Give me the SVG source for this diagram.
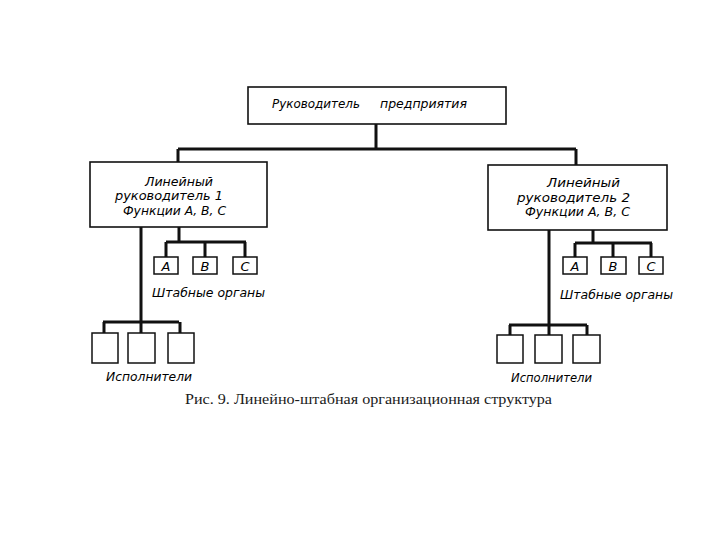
<svg xmlns="http://www.w3.org/2000/svg" width="720" height="540" viewBox="0 0 720 540">
<style>
.box{fill:#fff;stroke:#111;stroke-width:1.6}
.sm{fill:#fff;stroke:#111;stroke-width:1.5}
.lbl{font-family:"DejaVu Sans","Liberation Sans",sans-serif;font-style:italic;font-size:12.5px;fill:#000}
.let{font-family:"DejaVu Sans","Liberation Sans",sans-serif;font-style:italic;font-size:13px;fill:#000;text-anchor:middle}
.cap{font-family:"Liberation Serif",serif;font-size:15px;fill:#1a1a1a}
.con{fill:none;stroke:#111;stroke-width:3}
</style>
<rect width="720" height="540" fill="#fff"/>
<g id="connectors">
<path class="con" d="M376 124V149M178 149H576M178 149V162M576 149V165"/>
<path class="con" d="M141 227V322M103 322H179M104 322V333M141 322V333M180 322V333"/>
<path class="con" d="M179 227V242M166 242H246M166 242V257M205 242V257M245 242V257"/>
<path class="con" d="M549 230V325M509 325H587M510 325V335M549 325V335M587 325V335"/>
<path class="con" d="M593 230V243M575 243H652M575 243V257M613 243V257M651 243V257"/>
</g>
<g id="top">
<rect class="box" x="248" y="87" width="258" height="37"/>
<text class="lbl" x="272" y="108" textLength="88" lengthAdjust="spacingAndGlyphs">Руководитель</text>
<text class="lbl" x="380" y="108" textLength="87" lengthAdjust="spacingAndGlyphs">предприятия</text>
</g>
<g id="line1">
<rect class="box" x="90" y="162" width="177" height="65"/>
<text class="lbl" x="145" y="186" textLength="68" lengthAdjust="spacingAndGlyphs">Линейный</text>
<text class="lbl" x="115" y="200" textLength="108" lengthAdjust="spacingAndGlyphs">руководитель 1</text>
<text class="lbl" x="123" y="215" textLength="103" lengthAdjust="spacingAndGlyphs">Функции А, В, С</text>
</g>
<g id="line2">
<rect class="box" x="488" y="165" width="179" height="65"/>
<text class="lbl" x="547" y="187" textLength="73" lengthAdjust="spacingAndGlyphs">Линейный</text>
<text class="lbl" x="517" y="202" textLength="113" lengthAdjust="spacingAndGlyphs">руководитель 2</text>
<text class="lbl" x="525" y="216" textLength="105" lengthAdjust="spacingAndGlyphs">Функции А, В, С</text>
</g>
<g id="staff1">
<rect class="sm" x="154" y="257" width="24" height="17"/>
<text class="let" x="166" y="270.5">A</text>
<rect class="sm" x="193" y="257" width="24" height="17"/>
<text class="let" x="205" y="270.5">B</text>
<rect class="sm" x="233" y="257" width="24" height="17"/>
<text class="let" x="245" y="270.5">C</text>
<text class="lbl" x="152" y="297" textLength="113" lengthAdjust="spacingAndGlyphs">Штабные органы</text>
</g>
<g id="staff2">
<rect class="sm" x="563" y="257" width="24" height="17"/>
<text class="let" x="575" y="270.5">A</text>
<rect class="sm" x="601" y="257" width="25" height="17"/>
<text class="let" x="613" y="270.5">B</text>
<rect class="sm" x="639" y="257" width="24" height="17"/>
<text class="let" x="651" y="270.5">C</text>
<text class="lbl" x="560" y="299" textLength="113" lengthAdjust="spacingAndGlyphs">Штабные органы</text>
</g>
<g id="exec1">
<rect class="sm" x="92" y="333" width="26" height="30"/>
<rect class="sm" x="128" y="333" width="27" height="30"/>
<rect class="sm" x="168" y="333" width="26" height="30"/>
<text class="lbl" x="106" y="381" textLength="86" lengthAdjust="spacingAndGlyphs">Исполнители</text>
</g>
<g id="exec2">
<rect class="sm" x="497" y="335" width="26" height="28"/>
<rect class="sm" x="535" y="335" width="27" height="28"/>
<rect class="sm" x="573" y="335" width="27" height="28"/>
<text class="lbl" x="511" y="382" textLength="81" lengthAdjust="spacingAndGlyphs">Исполнители</text>
</g>
<g id="caption">
<text class="cap" x="185" y="404" textLength="367" lengthAdjust="spacingAndGlyphs">Рис. 9. Линейно-штабная организационная структура</text>
</g>
</svg>
